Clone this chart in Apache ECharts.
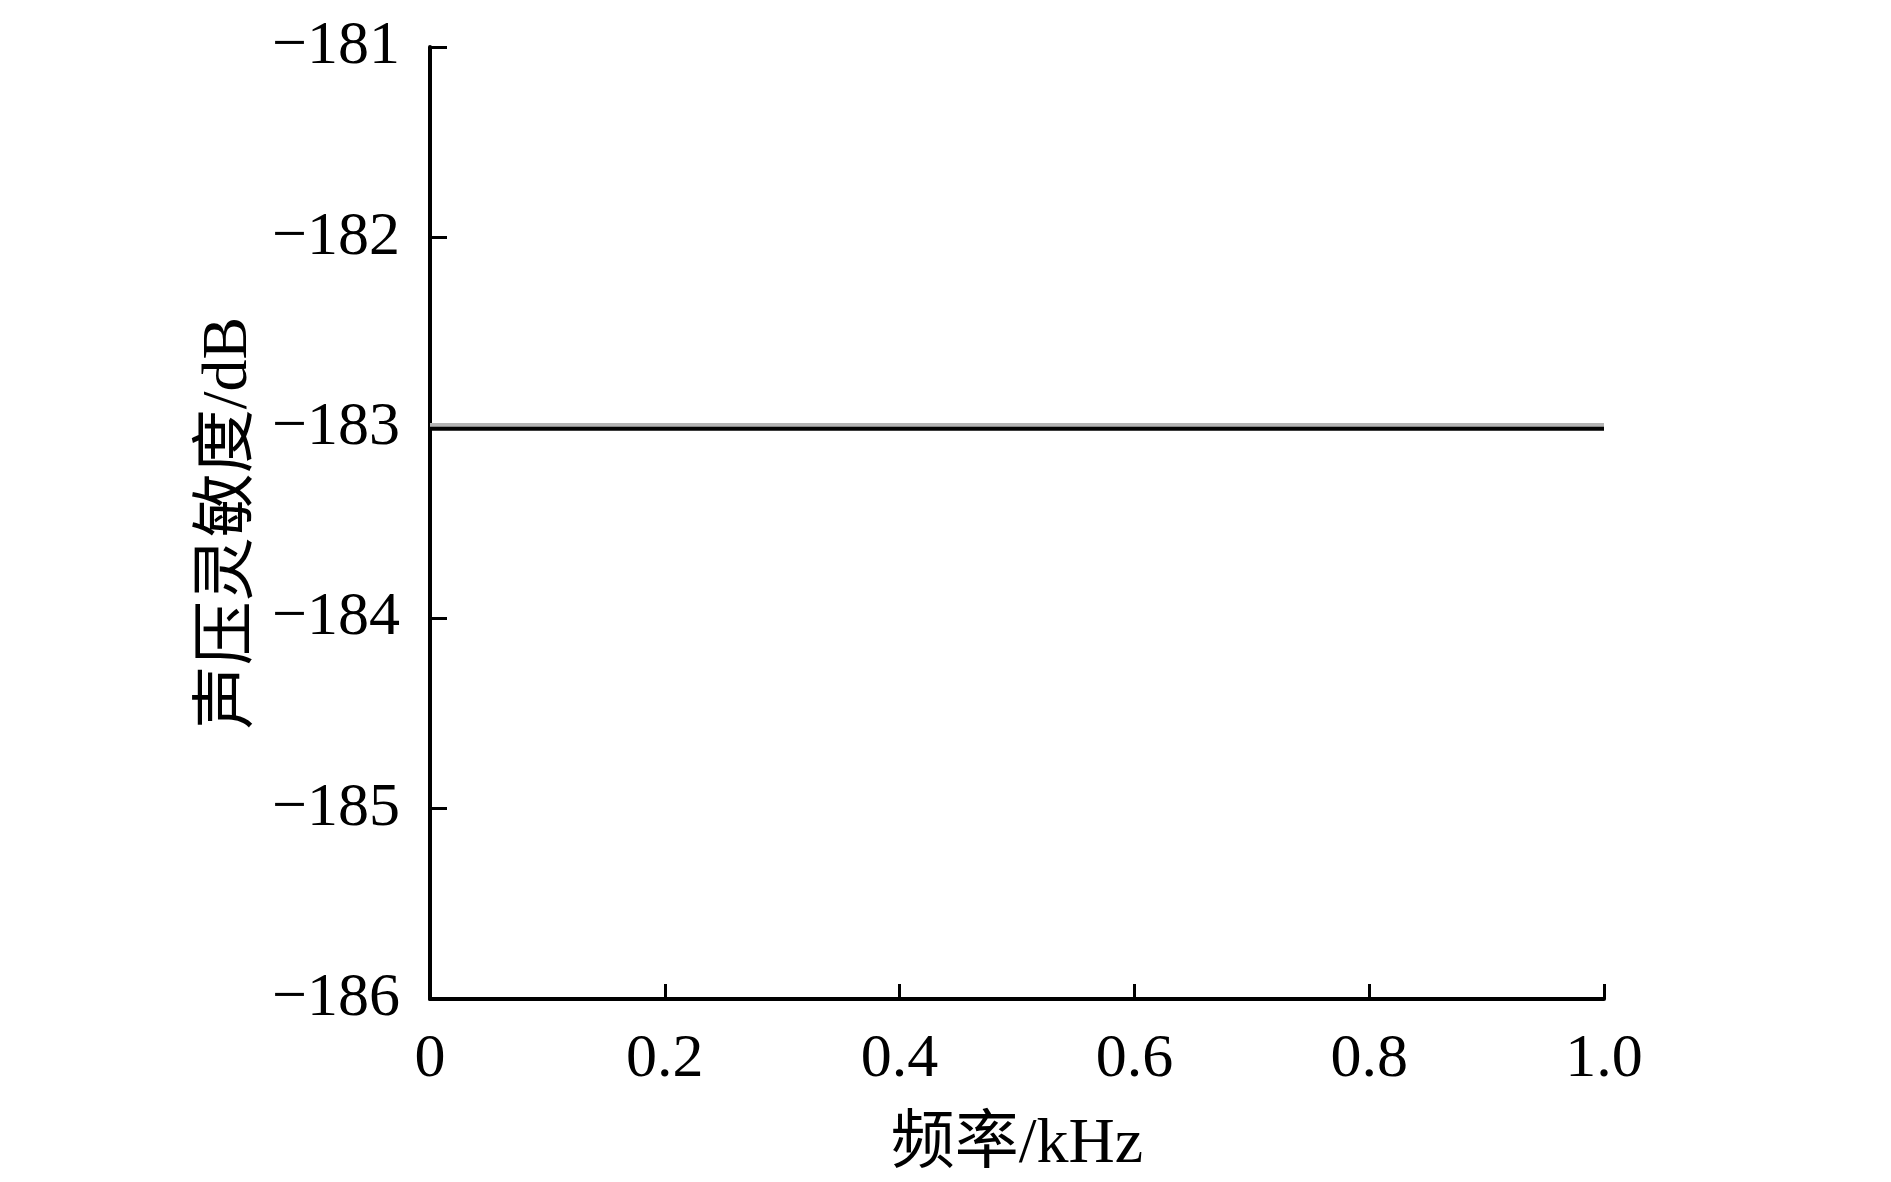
<!DOCTYPE html>
<html>
<head>
<meta charset="utf-8">
<title>声压灵敏度</title>
<script src="https://cdn.jsdelivr.net/npm/echarts@6/dist/echarts.min.js"></script>
<style>
	html,body{margin:0;padding:0;background:#fff;}
	#chart{width:1891px;height:1182px;}
</style>
</head>
<body>
<div id="chart"></div>
<script>
// 频率 (kHz)
var freq = [0, 0.2, 0.4, 0.6, 0.8, 1.0];
// 声压灵敏度 (dB)
var sensGray = [-182.985, -182.985, -182.985, -182.985, -182.985, -182.985];
var sensBlack = [-183.005, -183.005, -183.005, -183.005, -183.005, -183.005];
var xTicks = ['0', '0.2', '0.4', '0.6', '0.8', '1.0'];

var fontFam = '"Liberation Serif", "Noto Sans CJK SC", serif';

function pairs(xs, ys){
	var out = [];
	for(var i = 0; i < xs.length; i++) out.push([xs[i], ys[i]]);
	return out;
}

var chart = echarts.init(document.getElementById('chart'));
chart.setOption({
	backgroundColor: '#fff',
	animation: false,
	grid: {left: 430, right: 287, top: 47, bottom: 183, containLabel: false},
	xAxis: {
		type: 'value',
		min: 0, max: 1, interval: 0.2,
		name: '频率/kHz',
		nameLocation: 'middle',
		nameGap: 114,
		nameTextStyle: {color: '#000', fontSize: 64, fontFamily: fontFam},
		axisLine: {show: true, lineStyle: {color: '#000', width: 4}},
		axisTick: {show: true, inside: true, length: 15, lineStyle: {color: '#000', width: 3}},
		axisLabel: {
			color: '#000', fontSize: 62, fontFamily: fontFam, margin: 30,
			formatter: function(v){
				var i = Math.round(v / 0.2);
				return xTicks[i] !== undefined ? xTicks[i] : '';
			}
		},
		splitLine: {show: false}
	},
	yAxis: {
		type: 'value',
		min: -186, max: -181, interval: 1,
		name: '声压灵敏度/dB',
		nameLocation: 'middle',
		nameGap: 168,
		nameRotate: 90,
		nameTextStyle: {color: '#000', fontSize: 64, fontFamily: fontFam},
		axisLine: {show: true, lineStyle: {color: '#000', width: 4}},
		axisTick: {show: true, inside: true, length: 17, lineStyle: {color: '#000', width: 3}},
		axisLabel: {
			color: '#000', fontSize: 62, fontFamily: fontFam, margin: 30,
			formatter: function(v){ return '\u2212' + Math.abs(v); }
		},
		splitLine: {show: false}
	},
	series: [
		{
			name: 'gray',
			type: 'line',
			data: pairs(freq, sensGray),
			symbol: 'none',
			lineStyle: {color: '#b4b4b4', width: 4}
		},
		{
			name: 'black',
			type: 'line',
			data: pairs(freq, sensBlack),
			symbol: 'none',
			lineStyle: {color: '#000', width: 4}
		}
	]
});
</script>
</body>
</html>
